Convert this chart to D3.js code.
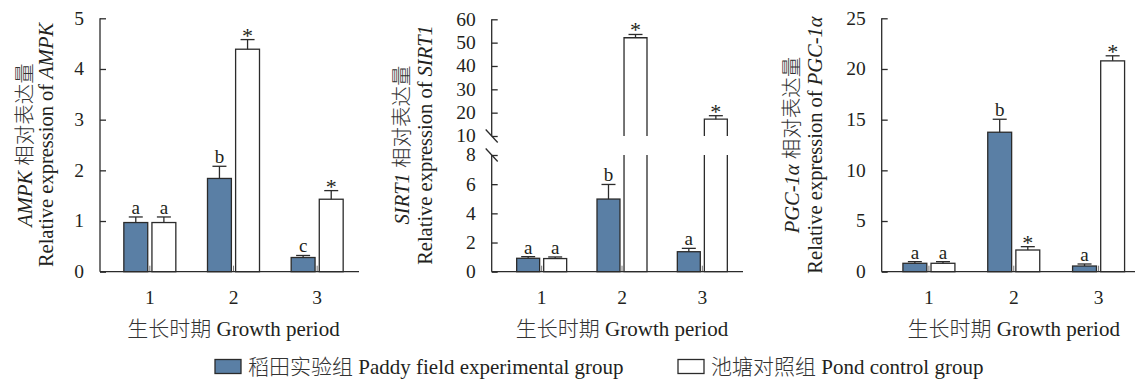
<!DOCTYPE html>
<html lang="zh">
<head>
    <meta charset="UTF-8">
    <title>AMPK / SIRT1 / PGC-1α</title>
    <script src="https://d3js.org/d3.v7.min.js"></script>
    <style>
        body { margin: 0; background: #fff; }
        svg text { font-family: "Liberation Serif", "Noto Sans CJK SC", serif; fill: #231f20; }
        svg tspan.cjk { font-family: "Noto Sans CJK SC", sans-serif; font-weight: 300; fill: #333; }
    </style>
</head>
<body>
    <svg id="chart" width="1135" height="385"></svg>

    <script>
        // data
        const periods = ["1", "2", "3"];
        const groups = ["paddy", "pond"];

        const ampkPaddy = [0.97, 1.84, 0.28];
        const ampkPaddyErr = [0.11, 0.24, 0.04];
        const ampkPond = [0.97, 4.39, 1.43];
        const ampkPondErr = [0.11, 0.19, 0.17];
        const ampkPaddyMarks = ["a", "b", "c"];
        const ampkPondMarks = ["a", "*", "*"];
        const ampkTicks = [0, 1, 2, 3, 4, 5];

        const sirt1Paddy = [0.92, 4.98, 1.37];
        const sirt1PaddyErr = [0.11, 1.0, 0.23];
        const sirt1Pond = [0.9, 52.1, 17.2];
        const sirt1PondErr = [0.11, 1.4, 1.5];
        const sirt1PaddyMarks = ["a", "b", "a"];
        const sirt1PondMarks = ["a", "*", "*"];
        const sirt1LowTicks = [0, 2, 4, 6, 8];
        const sirt1HighTicks = [10, 20, 30, 40, 50, 60];

        const pgcPaddy = [0.83, 13.76, 0.56];
        const pgcPaddyErr = [0.16, 1.28, 0.2];
        const pgcPond = [0.83, 2.14, 20.8];
        const pgcPondErr = [0.16, 0.33, 0.5];
        const pgcPaddyMarks = ["a", "b", "a"];
        const pgcPondMarks = ["a", "*", "*"];
        const pgcTicks = [0, 5, 10, 15, 20, 25];

        const legendLabels = ["稻田实验组 Paddy field experimental group", "池塘对照组 Pond control group"];
        const xTitle = "生长时期 Growth period";

        const blue = "#5a7fa5";
        const ink = "#2b2b2b";
        const y0 = 271.7;

        const svg = d3.select("#chart");

        // split a string into CJK / latin runs so the CJK part can be styled lighter
        function addRuns(textSel, str, italic) {
            str.split(/([\u3400-\u9fff]+)/).filter(s => s.length).forEach(s => {
                const t = textSel.append("tspan").text(s);
                if (/[\u3400-\u9fff]/.test(s)) t.attr("class", "cjk");
                else if (italic) t.style("font-style", "italic");
            });
        }

        function buildRows(paddy, paddyErr, pond, pondErr, paddyMarks, pondMarks) {
            return periods.map((p, i) => ({
                period: p,
                bars: [
                    { group: "paddy", value: paddy[i], err: paddyErr[i], mark: paddyMarks[i] },
                    { group: "pond", value: pond[i], err: pondErr[i], mark: pondMarks[i] }
                ]
            }));
        }

        const panels = [
            {
                gene: "AMPK", axisX: 100, range: [108, 359], axisEnd: 359, half: 26,
                rows: buildRows(ampkPaddy, ampkPaddyErr, ampkPond, ampkPondErr, ampkPaddyMarks, ampkPondMarks),
                segs: [{ domain: [0, 5], px: [y0, 18.3], ticks: ampkTicks }],
                titleX: [32, 53]
            },
            {
                gene: "SIRT1", axisX: 491.7, range: [501.5, 742.5], axisEnd: 743, half: 25,
                rows: buildRows(sirt1Paddy, sirt1PaddyErr, sirt1Pond, sirt1PondErr, sirt1PaddyMarks, sirt1PondMarks),
                segs: [
                    { domain: [0, 8], px: [y0, 155], ticks: sirt1LowTicks },
                    { domain: [10, 60], px: [136, 19.3], ticks: sirt1HighTicks }
                ],
                titleX: [409, 432]
            },
            {
                gene: "PGC-1α", axisX: 881.7, range: [886.5, 1141], axisEnd: 1135, half: 26,
                rows: buildRows(pgcPaddy, pgcPaddyErr, pgcPond, pgcPondErr, pgcPaddyMarks, pgcPondMarks),
                segs: [{ domain: [0, 25], px: [y0, 18.3], ticks: pgcTicks }],
                titleX: [799, 822]
            }
        ];

        panels.forEach(drawPanel);

        function drawPanel(cfg) {
            const g = svg.append("g");
            const x = d3.scaleBand().domain(periods).range(cfg.range);
            const xi = d3.scaleBand().domain(groups).range([-cfg.half, cfg.half]).paddingInner(0.15);
            const segs = cfg.segs.map(s => Object.assign({}, s, {
                scale: d3.scaleLinear().domain(s.domain).range(s.px)
            }));
            const low = segs[0], high = segs[1];
            const yPos = v => (high && v > low.domain[1]) ? high.scale(v) : low.scale(v);

            // bars
            cfg.rows.forEach(row => {
                const cx = x(row.period) + x.bandwidth() / 2;
                row.bars.forEach(b => {
                    const bx = cx + xi(b.group), bw = xi.bandwidth();
                    const fill = b.group === "paddy" ? blue : "#fff";
                    if (high && b.value > low.domain[1]) {
                        const lTop = low.scale(low.domain[1]);
                        const hBot = high.scale(high.domain[0]);
                        const hTop = high.scale(b.value);
                        g.append("rect").attr("x", bx).attr("y", lTop).attr("width", bw)
                            .attr("height", y0 - lTop).attr("fill", fill);
                        g.append("path").attr("fill", "none").attr("stroke", ink).attr("stroke-width", 1.3)
                            .attr("d", `M${bx},${lTop}V${y0}H${bx + bw}V${lTop}`);
                        g.append("rect").attr("x", bx).attr("y", hTop).attr("width", bw)
                            .attr("height", hBot - hTop).attr("fill", fill);
                        g.append("path").attr("fill", "none").attr("stroke", ink).attr("stroke-width", 1.3)
                            .attr("d", `M${bx},${hBot}V${hTop}H${bx + bw}V${hBot}`);
                    } else {
                        g.append("rect").attr("x", bx).attr("y", yPos(b.value)).attr("width", bw)
                            .attr("height", y0 - yPos(b.value)).attr("fill", fill)
                            .attr("stroke", ink).attr("stroke-width", 1.3);
                    }
                    // error bar (upper only)
                    const ex = bx + bw / 2;
                    const eTop = yPos(b.value + b.err);
                    g.append("line").attr("x1", ex).attr("x2", ex)
                        .attr("y1", yPos(b.value)).attr("y2", eTop)
                        .attr("stroke", ink).attr("stroke-width", 1.3);
                    g.append("line").attr("x1", ex - 7).attr("x2", ex + 7)
                        .attr("y1", eTop).attr("y2", eTop)
                        .attr("stroke", ink).attr("stroke-width", 1.3);
                    g.append("text").attr("x", ex)
                        .attr("y", b.mark === "*" ? eTop + 3 : eTop - 3)
                        .attr("text-anchor", "middle")
                        .style("font-size", b.mark === "*" ? "22px" : "19px")
                        .text(b.mark);
                });
                // inward x tick at group centre
                g.append("line").attr("x1", cx).attr("x2", cx).attr("y1", y0).attr("y2", y0 - 6)
                    .attr("stroke", "#777").attr("stroke-width", 1);
            });

            // x axis line
            g.append("line").attr("x1", cfg.axisX).attr("x2", cfg.axisEnd)
                .attr("y1", y0).attr("y2", y0).attr("stroke", ink).attr("stroke-width", 1.3);

            // y axis segments with inward ticks
            segs.forEach(s => {
                const ax = d3.axisRight(s.scale).tickValues(s.ticks).tickSize(6).tickFormat("");
                const ga = g.append("g").attr("transform", `translate(${cfg.axisX},0)`).call(ax);
                ga.selectAll("path, line").attr("stroke", ink).attr("stroke-width", 1.3);
                ga.select(".domain").attr("d", `M0,${s.px[0]}V${s.px[1]}`);
                s.ticks.forEach(t => {
                    g.append("text").attr("x", cfg.axisX - 16).attr("y", s.scale(t))
                        .attr("dy", "0.33em").attr("text-anchor", "end")
                        .style("font-size", "19.5px").text(t);
                });
            });

            // break marks
            if (high) {
                [high.px[0], low.px[1]].forEach(yb => {
                    g.append("line").attr("x1", cfg.axisX - 6).attr("x2", cfg.axisX + 6)
                        .attr("y1", yb - 6.5).attr("y2", yb + 6.5)
                        .attr("stroke", ink).attr("stroke-width", 1.3);
                });
            }

            // x tick labels
            periods.forEach(p => {
                g.append("text").attr("x", x(p) + x.bandwidth() / 2).attr("y", 304)
                    .attr("text-anchor", "middle").style("font-size", "19.5px").text(p);
            });

            // x title
            const xt = g.append("text").attr("x", x("2") + x.bandwidth() / 2).attr("y", 336)
                .attr("text-anchor", "middle").style("font-size", "21px");
            addRuns(xt, xTitle, false);

            // y title, two lines
            const t1 = g.append("text")
                .attr("transform", `translate(${cfg.titleX[0]},145) rotate(-90)`)
                .attr("text-anchor", "middle").style("font-size", "20.5px");
            t1.append("tspan").style("font-style", "italic").text(cfg.gene);
            addRuns(t1, " 相对表达量", false);

            const t2 = g.append("text")
                .attr("transform", `translate(${cfg.titleX[1]},145) rotate(-90)`)
                .attr("text-anchor", "middle").style("font-size", "20.5px");
            t2.append("tspan").text("Relative expression of ");
            t2.append("tspan").style("font-style", "italic").text(cfg.gene);
        }

        // legend
        const legendX = [215, 678];
        groups.forEach((grp, i) => {
            svg.append("rect").attr("x", legendX[i]).attr("y", 359.5).attr("width", 26).attr("height", 14)
                .attr("fill", grp === "paddy" ? blue : "#fff").attr("stroke", ink).attr("stroke-width", 1.3);
            const lt = svg.append("text").attr("x", legendX[i] + 33).attr("y", 374)
                .style("font-size", "21px");
            addRuns(lt, legendLabels[i], false);
        });
    </script>
</body>
</html>
